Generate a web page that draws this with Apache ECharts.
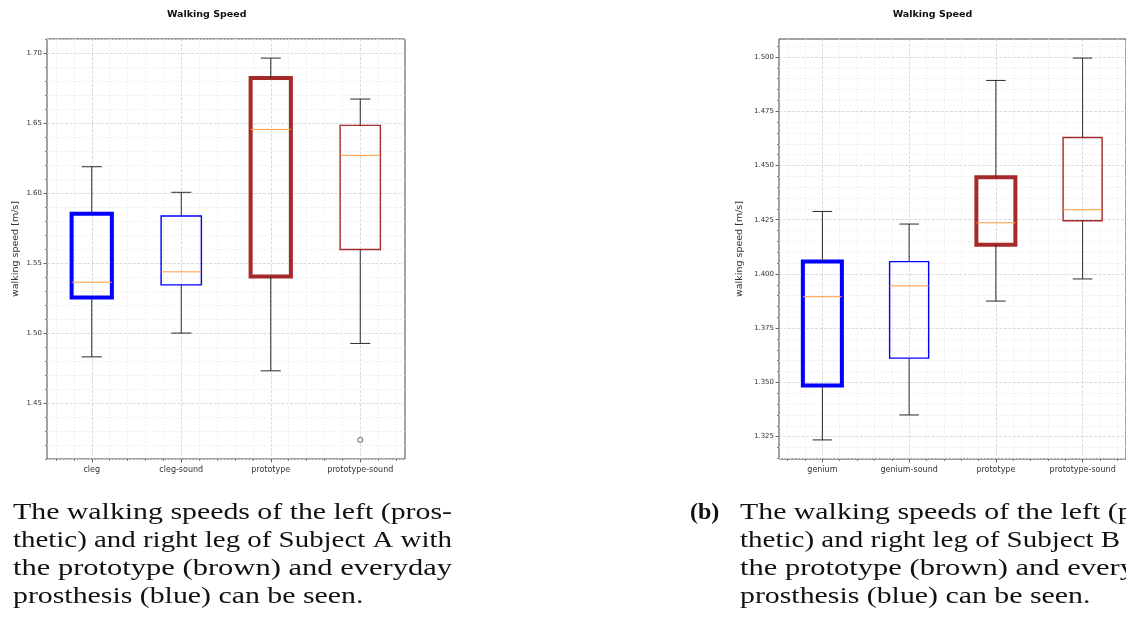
<!DOCTYPE html>
<html>
<head>
<meta charset="utf-8">
<script src="https://cdn.jsdelivr.net/npm/echarts@6/dist/echarts.min.js"></script>
<style>
  html, body { margin: 0; padding: 0; background: #ffffff; }
  #chart { width: 1126px; height: 624px; }
</style>
</head>
<body>
<div id="chart"></div>
<script>
// ---- Subject A: five-number summaries per condition ----
const catsA  = ['cleg', 'cleg-sound', 'prototype', 'prototype-sound'];
const lowA   = [1.483, 1.500, 1.473, 1.4926];
const q1A    = [1.5254, 1.5345, 1.5405, 1.5598];
const medA   = [1.5364, 1.5438, 1.6457, 1.6271];
const q3A    = [1.5854, 1.5838, 1.6824, 1.6486];
const highA  = [1.619, 1.6007, 1.6967, 1.6674];
const outCatA = ['prototype-sound'];
const outValA = [1.4236];
const yTicksA = ['1.45', '1.50', '1.55', '1.60', '1.65', '1.70'];

// ---- Subject B ----
const catsB  = ['genium', 'genium-sound', 'prototype', 'prototype-sound'];
const lowB   = [1.3235, 1.335, 1.3875, 1.3977];
const q1B    = [1.3486, 1.3612, 1.4135, 1.4245];
const medB   = [1.3895, 1.3945, 1.4236, 1.4296];
const q3B    = [1.4057, 1.4057, 1.4446, 1.4629];
const highB  = [1.4288, 1.423, 1.4892, 1.4995];
const outCatB = [];
const outValB = [];
const yTicksB = ['1.325', '1.350', '1.375', '1.400', '1.425', '1.450', '1.475', '1.500'];

// ---- captions ----
const captionA = [
  'The walking speeds of the left (pros-',
  'thetic) and right leg of Subject A with',
  'the prototype (brown) and everyday',
  'prosthesis (blue) can be seen.'
];
const captionB = [
  'The walking speeds of the left (pros-',
  'thetic) and right leg of Subject B with',
  'the prototype (brown) and everyday',
  'prosthesis (blue) can be seen.'
];

// box styling: everyday prosthesis in blue, prototype in brown; thick = prosthetic leg
const boxColors = ['#0000ff', '#0000ff', '#a52a2a', '#a52a2a'];
const boxWidths = [4, 1.4, 4, 1.4];
const MEDIAN_COLOR = '#ff9a3c';
const WHISKER_COLOR = '#2b2b2b';

function stepValues(lo, hi, step, skipStep) {
  const out = [];
  for (let k = Math.ceil(lo / step - 1e-9); k * step <= hi + 1e-9; k++) {
    const v = +(k * step).toFixed(6);
    if (skipStep) {
      const r = v / skipStep;
      if (Math.abs(r - Math.round(r)) < 1e-6) continue;
    }
    out.push(v);
  }
  return out;
}

function renderBox(params, api) {
  const i = api.value(0);
  const lo = api.coord([i, api.value(1)]);
  const q1 = api.coord([i, api.value(2)]);
  const md = api.coord([i, api.value(3)]);
  const q3 = api.coord([i, api.value(4)]);
  const hi = api.coord([i, api.value(5)]);
  const band = api.size([1, 0])[0];
  const half = band * 0.45 / 2;
  const capHalf = band * 0.225 / 2;
  const cx = lo[0];
  const idx = params.dataIndex;
  const wLine = { stroke: WHISKER_COLOR, lineWidth: 1, fill: null };
  return {
    type: 'group',
    children: [
      { type: 'rect', shape: { x: cx - half, y: q3[1], width: half * 2, height: q1[1] - q3[1] },
        style: { fill: null, stroke: boxColors[idx], lineWidth: boxWidths[idx] } },
      { type: 'line', shape: { x1: cx, y1: q1[1], x2: cx, y2: lo[1] }, style: wLine },
      { type: 'line', shape: { x1: cx, y1: q3[1], x2: cx, y2: hi[1] }, style: wLine },
      { type: 'line', shape: { x1: cx - capHalf, y1: lo[1], x2: cx + capHalf, y2: lo[1] }, style: wLine },
      { type: 'line', shape: { x1: cx - capHalf, y1: hi[1], x2: cx + capHalf, y2: hi[1] }, style: wLine },
      { type: 'line', shape: { x1: cx - half, y1: md[1], x2: cx + half, y2: md[1] },
        style: { stroke: MEDIAN_COLOR, lineWidth: 1 } }
    ]
  };
}

const majorGrid = { show: true, lineStyle: { color: '#d2d2d2', width: 0.8, type: [3, 1.5] } };
const minorGrid = { show: true, lineStyle: { color: '#ececec', width: 0.8, type: [2, 1.5] } };

const option = { animation: false, backgroundColor: '#ffffff', grid: [], xAxis: [], yAxis: [], series: [], graphic: [] };

function addPanel(p) {
  const g = option.grid.length;
  option.grid.push({ left: p.left, top: 39, width: p.width, height: 420, show: true,
    borderColor: '#444', borderWidth: 1, backgroundColor: '#ffffff', containLabel: false });

  // y limits: 5% margin around all plotted values
  const all = p.low.concat(p.high, p.outVal);
  const dmin = Math.min.apply(null, all), dmax = Math.max.apply(null, all);
  const pad = (dmax - dmin) * 0.05;
  const ymin = dmin - pad, ymax = dmax + pad;
  const majorVals = p.yTicks.map(Number);
  const majorStep = majorVals[1] - majorVals[0];
  const minorVals = stepValues(ymin, ymax, majorStep / 5, majorStep);
  const digits = p.yTicks[0].split('.')[1].length;

  const xBase = option.xAxis.length;
  // category axis carries the labels and the boxes
  option.xAxis.push({ type: 'category', gridIndex: g, data: p.cats, position: 'bottom',
    axisLine: { show: false }, axisTick: { show: false }, splitLine: { show: false },
    axisLabel: { fontSize: 8, color: '#333', margin: 7, fontFamily: 'DejaVu Sans' } });
  // major / minor x ticks and grid
  option.xAxis.push({ type: 'value', gridIndex: g, min: 0.5, max: 4.5, position: 'bottom',
    axisLine: { show: false }, axisLabel: { show: false, customValues: [1, 2, 3, 4] },
    axisTick: { show: true, inside: false, length: 3.5, customValues: [1, 2, 3, 4], lineStyle: { color: '#444', width: 0.8 } },
    splitLine: majorGrid });
  const xMinor = stepValues(0.5, 4.5, 0.2, 1).filter(v => v > 0.5 && v < 4.5);
  option.xAxis.push({ type: 'value', gridIndex: g, min: 0.5, max: 4.5, position: 'bottom',
    axisLine: { show: false }, axisLabel: { show: false, customValues: xMinor },
    axisTick: { show: true, inside: false, length: 2, customValues: xMinor, lineStyle: { color: '#444', width: 0.6 } },
    splitLine: minorGrid });

  const yBase = option.yAxis.length;
  option.yAxis.push({ type: 'value', gridIndex: g, min: ymin, max: ymax, position: 'left',
    axisLine: { show: false },
    axisTick: { show: true, inside: false, length: 3.5, customValues: majorVals, lineStyle: { color: '#444', width: 0.8 } },
    axisLabel: { customValues: majorVals, fontSize: 7, color: '#333', margin: 5, fontFamily: 'DejaVu Sans',
      formatter: v => v.toFixed(digits) },
    splitLine: majorGrid });
  option.yAxis.push({ type: 'value', gridIndex: g, min: ymin, max: ymax, position: 'left',
    axisLine: { show: false }, axisLabel: { show: false, customValues: minorVals },
    axisTick: { show: true, inside: false, length: 2, customValues: minorVals, lineStyle: { color: '#444', width: 0.6 } },
    splitLine: minorGrid });

  option.series.push({
    type: 'custom', xAxisIndex: xBase, yAxisIndex: yBase, renderItem: renderBox, z: 5,
    encode: { x: 0, y: [1, 2, 3, 4, 5] },
    data: p.cats.map((c, i) => [i, p.low[i], p.q1[i], p.med[i], p.q3[i], p.high[i]])
  });
  option.series.push({
    type: 'scatter', xAxisIndex: xBase, yAxisIndex: yBase, z: 6,
    symbol: 'circle', symbolSize: 5,
    itemStyle: { color: '#ffffff', borderColor: '#333', borderWidth: 1 },
    data: p.outCat.map((c, i) => [c, p.outVal[i]])
  });

  option.graphic.push({ type: 'text', x: p.titleX, y: 15,
    style: { text: 'Walking Speed', font: 'bold 9.5px "DejaVu Sans"', fill: '#111', align: 'center', verticalAlign: 'middle' } });
  option.graphic.push({ type: 'text', x: p.nameX, y: 249, rotation: Math.PI / 2,
    style: { text: 'walking speed [m/s]', font: '9.5px "DejaVu Sans"', fill: '#333', align: 'center', verticalAlign: 'middle' } });
}

addPanel({ left: 47, width: 358, cats: catsA, low: lowA, q1: q1A, med: medA, q3: q3A, high: highA,
  outCat: outCatA, outVal: outValA, yTicks: yTicksA, titleX: 206.7, nameX: 15.5 });
addPanel({ left: 779, width: 352, cats: catsB, low: lowB, q1: q1B, med: medB, q3: q3B, high: highB,
  outCat: outCatB, outVal: outValB, yTicks: yTicksB, titleX: 932.5, nameX: 740 });

// captions, set in a serif face and justified to the column width
const CAP_FONT = '24px "Liberation Serif"';
const CAP_WIDTH = 439;
const CAP_Y = [513, 541, 569, 597];
const measure = document.createElement('canvas').getContext('2d');
measure.font = CAP_FONT;
function addCaption(lines, x) {
  const base = CAP_WIDTH / measure.measureText(lines[0]).width;
  lines.forEach((t, i) => {
    const sx = i < lines.length - 1 ? CAP_WIDTH / measure.measureText(t).width : base;
    option.graphic.push({ type: 'text', x: x, y: CAP_Y[i], scaleX: sx,
      style: { text: t, font: CAP_FONT, fill: '#111', align: 'left', verticalAlign: 'middle' } });
  });
}
addCaption(captionA, 13);
addCaption(captionB, 740);
option.graphic.push({ type: 'text', x: 690, y: CAP_Y[0],
  style: { text: '(b)', font: 'bold 24px "Liberation Serif"', fill: '#111', align: 'left', verticalAlign: 'middle' } });

const chart = echarts.init(document.getElementById('chart'), null, { renderer: 'canvas' });
chart.setOption(option);
</script>
</body>
</html>
